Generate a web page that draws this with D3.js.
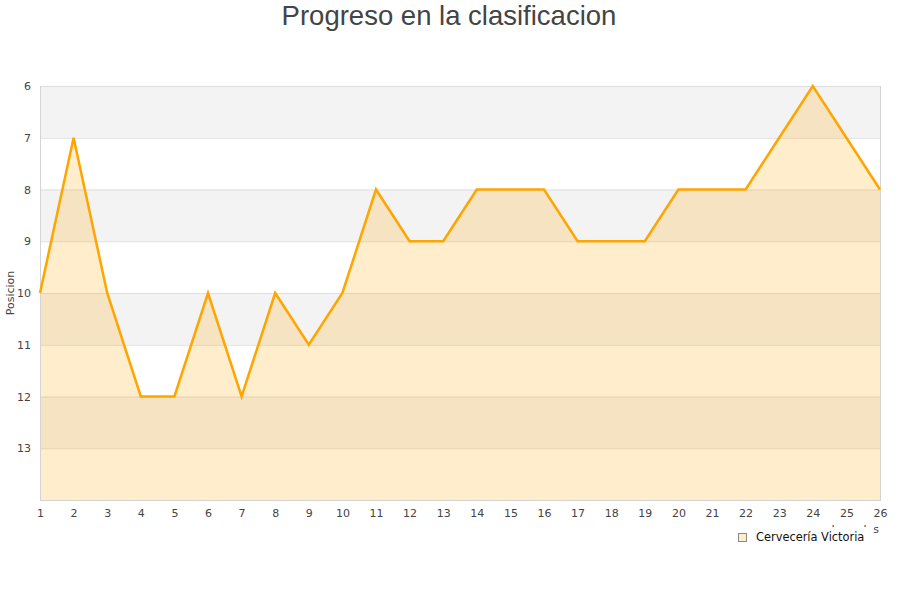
<!DOCTYPE html>
<html><head><meta charset="utf-8">
<script src="https://cdn.jsdelivr.net/npm/d3@7"></script>
<style>body{margin:0;background:#fff}svg{display:block}</style>
</head><body>
<svg id="c" width="900" height="600"></svg>
<script>
const jornadas = [1,2,3,4,5,6,7,8,9,10,11,12,13,14,15,16,17,18,19,20,21,22,23,24,25,26];
const posiciones = [10,7,10,12,12,10,12,10,11,10,8,9,9,8,8,8,9,9,9,8,8,8,7,6,7,8];
const yTicks = [6,7,8,9,10,11,12,13];
const serieNombre = "Cervecería Victoria";
const titulo = "Progreso en la clasificacion";

const svg = d3.select("#c");
const L=40,R=880,T=86,B=500;
const x = d3.scaleLinear().domain([1,26]).range([L,R]);
const y = d3.scaleLinear().domain([6,14]).range([T,B]);

// bands
const bands = d3.range(6,14);
svg.selectAll("rect.band").data(bands).join("rect")
  .attr("x",L).attr("width",R-L)
  .attr("y",d=>y(d)).attr("height",d=>y(d+1)-y(d))
  .attr("fill",(d,i)=>i%2===0?"#f3f3f3":"#ffffff");
// grid
svg.selectAll("line.grid").data(d3.range(6,15)).join("line")
  .attr("x1",L).attr("x2",R).attr("y1",d=>y(d)+0.5).attr("y2",d=>y(d)+0.5)
  .attr("stroke","#dedede").attr("stroke-width",1);

// area
const area = d3.area().x((d,i)=>x(jornadas[i])).y0(y(14)).y1(d=>y(d));
svg.append("path").datum(posiciones).attr("d",area).attr("fill","rgba(255,165,0,0.2)");
// border
svg.append("line").attr("x1",L+0.5).attr("x2",L+0.5).attr("y1",T).attr("y2",B).attr("stroke","#d4d4d4");
svg.append("line").attr("x1",R+0.5).attr("x2",R+0.5).attr("y1",T).attr("y2",B).attr("stroke","#d4d4d4");
svg.append("line").attr("x1",L).attr("x2",R+1).attr("y1",B+0.5).attr("y2",B+0.5).attr("stroke","#d4d4d4");

const line = d3.line().x((d,i)=>x(jornadas[i])).y(d=>y(d));
svg.append("path").datum(posiciones).attr("d",line).attr("fill","none")
  .attr("stroke","#ffa500").attr("stroke-width",2.5).attr("stroke-linejoin","miter");

// axes labels
const yAxis = d3.axisLeft(y).tickValues(yTicks).tickSize(0).tickPadding(9);
const gy = svg.append("g").attr("transform",`translate(${L},0)`).call(yAxis);
gy.select(".domain").remove();
gy.selectAll("text").attr("font-family","DejaVu Sans").attr("font-size",11).attr("fill","#444");

const xAxis = d3.axisBottom(x).tickValues(jornadas).tickFormat(d3.format("d")).tickSize(0).tickPadding(9);
const gx = svg.append("g").attr("transform",`translate(0,${B})`).call(xAxis);
gx.select(".domain").remove();
gx.selectAll("text").attr("font-family","DejaVu Sans").attr("font-size",11).attr("fill","#444");

svg.append("text").attr("transform",`translate(14,${(T+B)/2}) rotate(-90)`)
  .attr("text-anchor","middle").attr("font-family","DejaVu Sans").attr("font-size",11).attr("fill","#444").text("Posicion");

svg.append("text").attr("x",879).attr("y",533).attr("text-anchor","end")
  .attr("font-family","DejaVu Sans").attr("font-size",11).attr("fill","#444").text("Jornadas");

// legend
const lg = svg.append("g");
lg.append("rect").attr("x",728).attr("y",527).attr("width",145).attr("height",22).attr("fill","#fff");
lg.append("rect").attr("x",738.5).attr("y",533.5).attr("width",8).attr("height",8)
  .attr("fill","#feedcb").attr("stroke","#8a8a8a").attr("stroke-width",1);
lg.append("text").attr("x",756).attr("y",541).attr("font-family","DejaVu Sans").attr("font-size",11.4).attr("fill","#111").text(serieNombre);

svg.append("text").attr("x",449).attr("y",25).attr("text-anchor","middle")
  .attr("font-family","Liberation Sans, Arial").attr("font-size",27.5).attr("fill","#444").text(titulo);
</script>
</body></html>
